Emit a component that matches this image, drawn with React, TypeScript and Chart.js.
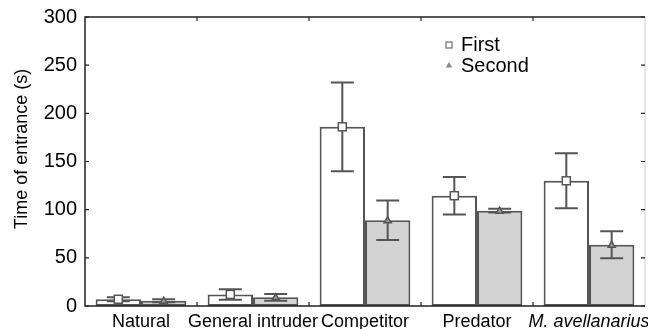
import React, { useEffect, useRef } from 'react';
import { Chart, registerables } from 'chart.js';

Chart.register(...registerables);

const categories = ['Natural', 'General intruder', 'Competitor', 'Predator', 'M. avellanarius'];
const seriesNames = ['First', 'Second'];
const firstMeans = [7, 12, 186, 114.5, 130];
const firstErrors = [2, 5.5, 46, 19.5, 28.5];
const secondMeans = [5.5, 9, 89, 99, 63.5];
const secondErrors = [1.5, 3.5, 20.5, 2, 14];
const yTickValues = [0, 50, 100, 150, 200, 250, 300];
const yTitle = 'Time of entrance (s)';

const FONT = '"Liberation Sans", Arial, Helvetica, sans-serif';
const EDGE = '#555555';

export default function App() {
  const ref = useRef<HTMLCanvasElement>(null);

  useEffect(() => {
    document.body.style.margin = '0';
    const canvas = ref.current;
    if (!canvas) return;

    const means = [firstMeans, secondMeans];
    const errors = [firstErrors, secondErrors];

    const decor = {
      id: 'decor',
      afterDatasetsDraw(chart: any) {
        const ctx = chart.ctx as CanvasRenderingContext2D;
        const y = chart.scales.y;
        ctx.save();
        // error bars
        ctx.strokeStyle = EDGE;
        ctx.lineWidth = 2;
        [0, 1].forEach((d) => {
          const meta = chart.getDatasetMeta(d);
          meta.data.forEach((bar: any, i: number) => {
            const cx = bar.x;
            const hi = y.getPixelForValue(means[d][i] + errors[d][i]);
            const lo = y.getPixelForValue(means[d][i] - errors[d][i]);
            ctx.beginPath();
            ctx.moveTo(cx, hi);
            ctx.lineTo(cx, lo);
            ctx.moveTo(cx - 11.5, hi);
            ctx.lineTo(cx + 11.5, hi);
            ctx.moveTo(cx - 11.5, lo);
            ctx.lineTo(cx + 11.5, lo);
            ctx.stroke();
          });
        });
        // markers
        [0, 1].forEach((d) => {
          const meta = chart.getDatasetMeta(d);
          meta.data.forEach((bar: any, i: number) => {
            const cx = bar.x;
            const cy = y.getPixelForValue(means[d][i]);
            ctx.lineWidth = 1.5;
            ctx.strokeStyle = EDGE;
            if (d === 0) {
              ctx.fillStyle = '#ffffff';
              ctx.fillRect(cx - 4, cy - 4, 8, 8);
              ctx.strokeRect(cx - 4, cy - 4, 8, 8);
            } else {
              ctx.fillStyle = '#999999';
              ctx.beginPath();
              ctx.moveTo(cx, cy - 3.5);
              ctx.lineTo(cx + 3.5, cy + 2.5);
              ctx.lineTo(cx - 3.5, cy + 2.5);
              ctx.closePath();
              ctx.fill();
              ctx.stroke();
            }
          });
        });
        ctx.restore();
      },
      afterDraw(chart: any) {
        const ctx = chart.ctx as CanvasRenderingContext2D;
        const { left, right, top, bottom } = chart.chartArea;
        const x = chart.scales.x;
        const y = chart.scales.y;
        ctx.save();
        // frame
        ctx.lineWidth = 1.5;
        ctx.strokeStyle = '#dddddd';
        ctx.beginPath();
        ctx.moveTo(right, top);
        ctx.lineTo(right, bottom);
        ctx.stroke();
        ctx.strokeStyle = '#222222';
        ctx.beginPath();
        ctx.moveTo(right, top);
        ctx.lineTo(left, top);
        ctx.lineTo(left, bottom);
        ctx.lineTo(right, bottom);
        ctx.stroke();
        // y ticks inward on both sides
        ctx.lineWidth = 1.2;
        yTickValues.forEach((v) => {
          const py = y.getPixelForValue(v);
          ctx.beginPath();
          ctx.moveTo(left, py);
          ctx.lineTo(left + 4, py);
          ctx.moveTo(right, py);
          ctx.lineTo(right - 4, py);
          ctx.stroke();
        });
        // x boundary ticks
        const half = (x.getPixelForValue(1) - x.getPixelForValue(0)) / 2;
        for (let i = 0; i < categories.length - 1; i++) {
          const px = x.getPixelForValue(i) + half;
          ctx.beginPath();
          ctx.moveTo(px, bottom);
          ctx.lineTo(px, bottom - 4);
          ctx.moveTo(px, top);
          ctx.lineTo(px, top + 4);
          ctx.stroke();
        }
        // y title
        ctx.fillStyle = '#000000';
        ctx.font = `18px ${FONT}`;
        ctx.textAlign = 'center';
        ctx.textBaseline = 'middle';
        ctx.save();
        ctx.translate(22, 149);
        ctx.rotate(-Math.PI / 2);
        ctx.fillText(yTitle, 0, 0);
        ctx.restore();
        // legend
        const lx = 449;
        const ly = [45, 65];
        ctx.font = `20px ${FONT}`;
        ctx.textAlign = 'left';
        ctx.fillStyle = '#000000';
        ctx.fillText(chart.data.datasets[0].label, lx + 12, ly[0]);
        ctx.fillText(chart.data.datasets[1].label, lx + 12, ly[1] + 1);
        ctx.lineWidth = 1.3;
        ctx.strokeStyle = '#777777';
        ctx.fillStyle = '#ffffff';
        ctx.fillRect(lx - 3, ly[0] - 3, 6, 6);
        ctx.strokeRect(lx - 3, ly[0] - 3, 6, 6);
        ctx.fillStyle = '#888888';
        ctx.beginPath();
        ctx.moveTo(lx, ly[1] - 3);
        ctx.lineTo(lx + 3.2, ly[1] + 2.5);
        ctx.lineTo(lx - 3.2, ly[1] + 2.5);
        ctx.closePath();
        ctx.fill();
        ctx.restore();
      },
    };

    const chart = new Chart(canvas, {
      type: 'bar',
      data: {
        labels: categories,
        datasets: [
          {
            label: seriesNames[0],
            data: firstMeans,
            backgroundColor: '#ffffff',
            borderColor: EDGE,
            borderWidth: 2,
            borderSkipped: false,
            categoryPercentage: 0.81,
            barPercentage: 1,
          },
          {
            label: seriesNames[1],
            data: secondMeans,
            backgroundColor: '#d3d3d3',
            borderColor: EDGE,
            borderWidth: 2,
            borderSkipped: false,
            categoryPercentage: 0.81,
            barPercentage: 1,
          },
        ],
      },
      options: {
        animation: false,
        responsive: true,
        maintainAspectRatio: false,
        layout: { padding: { top: 17, right: 3, left: 0, bottom: 0 } },
        plugins: {
          legend: { display: false },
          tooltip: { enabled: false },
        },
        scales: {
          x: {
            grid: { display: false, drawTicks: false },
            border: { display: false },
            ticks: {
              autoSkip: false,
              maxRotation: 0,
              minRotation: 0,
              padding: 5,
              color: '#000000',
              font: (ctx: any) => ({
                family: FONT,
                size: 18,
                style: ctx.index === 4 ? 'italic' : 'normal',
              }),
            },
            afterFit: (scale: any) => {
              scale.height = 23;
              scale.paddingLeft = 0;
              scale.paddingRight = 0;
            },
          },
          y: {
            min: 0,
            max: 300,
            grid: { display: false, drawTicks: false },
            border: { display: false },
            ticks: {
              stepSize: 50,
              padding: 8,
              color: '#000000',
              font: { family: FONT, size: 20 },
            },
            afterFit: (scale: any) => {
              scale.width = 85;
              scale.paddingTop = 0;
              scale.paddingBottom = 0;
            },
          },
        },
      },
      plugins: [decor],
    });

    return () => chart.destroy();
  }, []);

  return (
    <div style={{ width: 648, height: 329, position: 'relative' }}>
      <canvas ref={ref} />
    </div>
  );
}
